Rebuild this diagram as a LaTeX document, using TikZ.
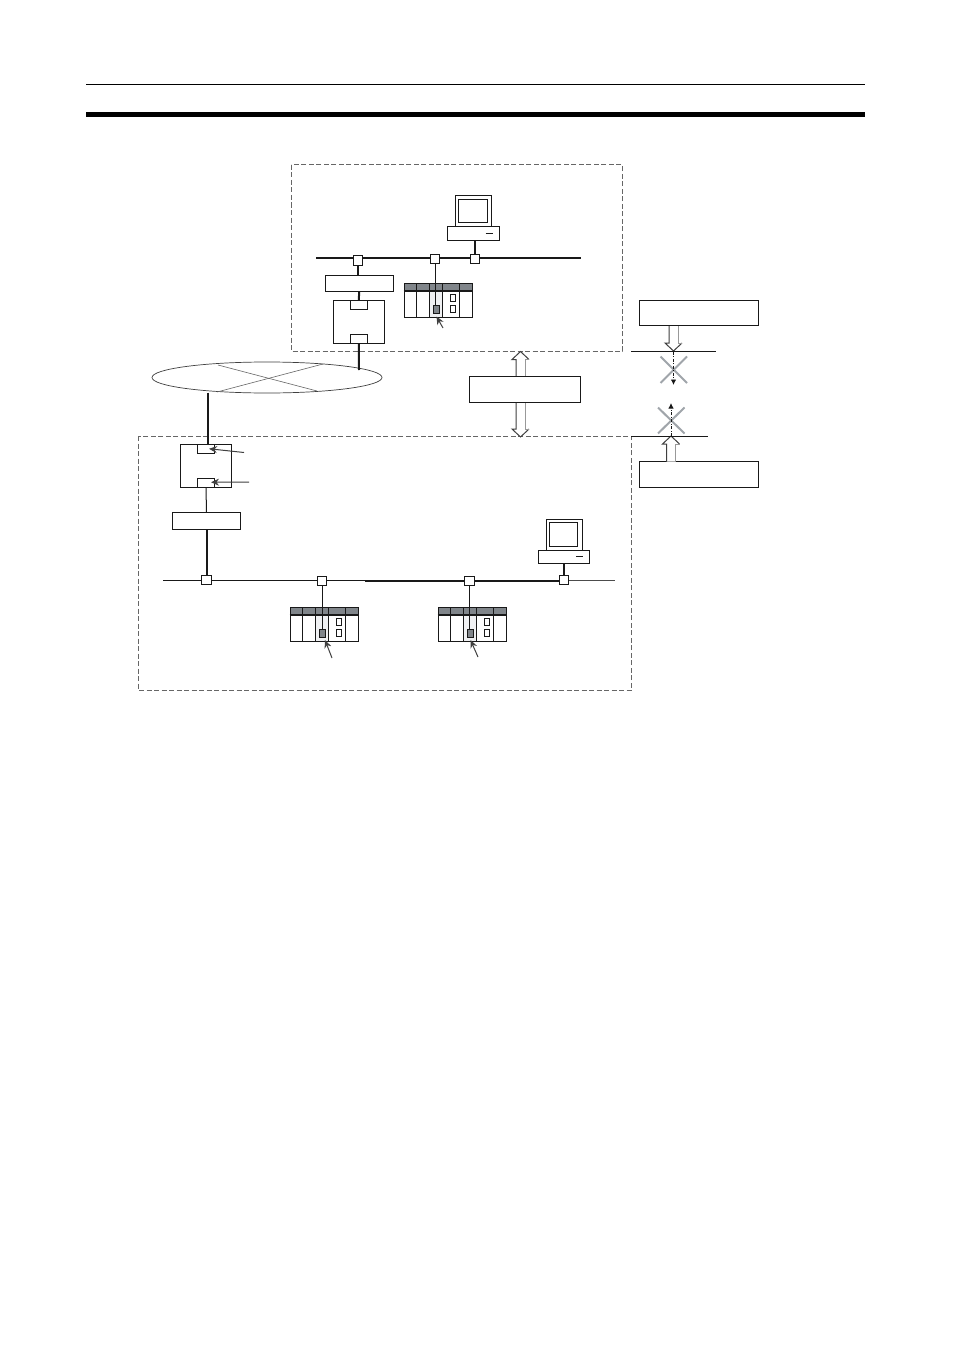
\documentclass[tikz,border=0pt]{standalone}
\usetikzlibrary{arrows.meta, positioning, calc, shapes.geometric}
\definecolor{headgray}{RGB}{128, 133, 138}
\definecolor{crossgray}{RGB}{160, 165, 170}
\definecolor{slotgray}{RGB}{240, 241, 243}
\tikzset{
  plainbox/.style={draw=black!90, fill=white, line width=1pt, inner sep=0pt, outer sep=0pt},
  tapbox/.style={plainbox, minimum width=9.5pt, minimum height=9.5pt},
  zonebox/.style={draw=black!60, line width=1pt, dash pattern=on 5pt off 2.5pt},
  busline/.style={draw=black!90, line width=2pt},
  thinlink/.style={draw=black!90, line width=1pt},
  thicklink/.style={draw=black!90, line width=2pt},
  pointer/.style={draw=black!75, line width=1pt, -{Stealth[length=8pt,width=7pt]}},
  crossline/.style={draw=crossgray, line width=2pt},
  blockline/.style={draw=black!90, line width=0.9pt, dash pattern=on 3pt off 1.5pt on 1pt off 1.5pt, -{Latex[length=5.5pt,width=5.5pt]}}
}
% monitor on a base, #1 = name, #2 = x, #3 = y of the top left corner of the monitor
\newcommand{\pcset}[3]{
  \node[plainbox, minimum width=36pt, minimum height=31pt, anchor=north west] (#1mon) at (#2, #3) {};
  \node[plainbox, minimum width=28.5pt, minimum height=23.5pt] (#1scr) at ($(#1mon.center)+(-0.3,-0.2)$) {};
  \node[plainbox, minimum width=51.5pt, minimum height=13.5pt, anchor=north] (#1) at (#1mon.south) {};
  \draw[thinlink] ($(#1.center)+(12,0)$) -- ($(#1.center)+(19,0)$);
}
% rack of units, #1 = name, #2 = x, #3 = y of the top left corner
\newcommand{\plcrack}[3]{
  \begin{scope}[shift={(#2, #3)}]
    \fill[slotgray] (26, 8) rectangle (38.5, 34);
    \fill[headgray] (0, 0) rectangle (68.5, 7.5);
    \node[draw=black!90, line width=1pt, minimum width=68.5pt, minimum height=34pt, inner sep=0pt, anchor=north west] (#1) at (0, 0) {};
    \draw[thicklink] (0, 7.5) -- (68.5, 7.5);
    \foreach \xdiv in {13, 26, 38.5, 56} {
      \draw[thinlink] (\xdiv, 0) -- (\xdiv, 34);
    }
    \node[plainbox, fill=headgray, minimum width=6pt, minimum height=8pt] (#1mod) at (32.5, 26) {};
    \node[plainbox, minimum width=5pt, minimum height=7.5pt] (#1up) at (49.5, 15) {};
    \node[plainbox, minimum width=5pt, minimum height=7.5pt] (#1low) at (49.5, 26) {};
  \end{scope}
}
% hollow arrow, #1 = x, #2 = y of the tail, #3 = y of the tip, #4 = direction (1 down, -1 up)
\newcommand{\openarrow}[4]{
  \fill[white] ({#1-4.5}, #2) -- ({#1-4.5}, {#3-(#4)*8}) -- ({#1-8.5}, {#3-(#4)*8}) -- (#1, #3) -- ({#1+8.5}, {#3-(#4)*8}) -- ({#1+4.5}, {#3-(#4)*8}) -- ({#1+4.5}, #2) -- cycle;
  \draw[black!75, line width=1pt] ({#1-4.5}, #2) -- ({#1-4.5}, {#3-(#4)*8}) -- ({#1-8.5}, {#3-(#4)*8}) -- (#1, #3) -- ({#1+8.5}, {#3-(#4)*8});
  \draw[black!40, line width=1pt] ({#1+8.5}, {#3-(#4)*8}) -- ({#1+4.5}, {#3-(#4)*8}) -- ({#1+4.5}, #2);
}
\begin{document}
\begin{tikzpicture}[x=1pt, y=-1pt]
  \useasboundingbox[fill=white] (0, 0) rectangle (954, 1351);

  % Page rules
  \draw[black, line width=0.9pt] (86, 84.5) -- (865, 84.5);
  \draw[black, line width=5pt] (86, 114.5) -- (865, 114.5);

  % Zones
  \draw[zonebox] (291, 165) rectangle (622.5, 351);
  \draw[zonebox] (138, 436) rectangle (631.5, 690);

  % Upper network
  \coordinate (busAleft) at (316, 258);
  \coordinate (busAright) at (581, 258);
  \draw[busline] (busAleft) -- (busAright);
  \node[tapbox] (tapAa) at (358, 260.5) {};
  \node[tapbox] (tapAb) at (435, 259) {};
  \node[tapbox] (tapAc) at (475, 259) {};
  \pcset{pcA}{455.5}{195.5}
  \draw[thicklink] (pcA.south -| tapAc) -- (tapAc.north);
  \node[plainbox, minimum width=68.5pt, minimum height=16pt] (unitA) at (359.25, 283.5) {};
  \draw[thicklink] (tapAa.south) -- (tapAa.south |- unitA.north);
  \node[plainbox, minimum width=51.5pt, minimum height=43.5pt] (gateA) at (358.75, 321.75) {};
  \node[plainbox, minimum width=17pt, minimum height=9.5pt, anchor=north] (gateAtop) at (gateA.north) {};
  \node[plainbox, minimum width=17pt, minimum height=9pt, anchor=south] (gateAbot) at (gateA.south) {};
  \draw[thicklink] (unitA.south) -- (gateAtop.north);
  \plcrack{rackA}{403.5}{283}
  \draw[thinlink] (tapAb.south) -- (rackAmod.north -| tapAb);
  \coordinate (ptrA) at (443, 328);
  \draw[pointer] (ptrA) -- (436.5, 316.5);

  % Wide area network
  \node[draw=black!75, line width=0.7pt, fill=white, ellipse, minimum width=230pt, minimum height=31pt, inner sep=0pt] (wan) at (267, 377.5) {};
  \draw[black!60, line width=0.6pt] (218, 365) -- (317, 391);
  \draw[black!60, line width=0.6pt] (217, 392) -- (323, 364);
  \coordinate (wanA) at (359, 370);
  \draw[thicklink] (gateAbot.south) -- (wanA);

  % Lower network
  \coordinate (busBleft) at (163, 580.5);
  \coordinate (busBmid) at (365, 580.5);
  \coordinate (busBrgt) at (565, 580.5);
  \coordinate (busBright) at (615, 580.5);
  \draw[thinlink, line width=1.5pt] (busBleft) -- (busBmid);
  \draw[busline] (busBmid) -- (busBrgt);
  \draw[thinlink, line width=1.5pt, black!70] (busBrgt) -- (busBright);
  \node[plainbox, minimum width=51.5pt, minimum height=43.5pt] (gateB) at (206, 466) {};
  \node[plainbox, minimum width=17pt, minimum height=9pt, anchor=north] (gateBtop) at (gateB.north) {};
  \node[plainbox, minimum width=17pt, minimum height=9pt, anchor=south] (gateBbot) at (gateB.south) {};
  \coordinate (wanB) at (208, 392.5);
  \draw[thicklink] (wanB) -- (wanB |- gateB.north);
  \coordinate (ptrBa) at (244, 452.5);
  \coordinate (ptrBb) at (249, 482);
  \draw[pointer] (ptrBa) -- ($(gateBtop.center)+(3,0)$);
  \draw[pointer] (ptrBb) -- ($(gateBbot.center)+(5,-1)$);
  \node[plainbox, minimum width=68pt, minimum height=17pt] (unitB) at (206.5, 521) {};
  \draw[thinlink] (gateBbot.south) -- (unitB.north);
  \node[tapbox] (tapBa) at (206.5, 580) {};
  \node[tapbox] (tapBb) at (322, 581) {};
  \node[tapbox] (tapBc) at (469.5, 581) {};
  \node[tapbox] (tapBd) at (564, 580) {};
  \draw[thicklink] (unitB.south) -- (tapBa.north);
  \plcrack{rackB}{289.5}{607}
  \plcrack{rackC}{437.5}{607}
  \draw[thinlink] (tapBb.south) -- (rackBmod.north -| tapBb);
  \draw[thinlink] (tapBc.south) -- (rackCmod.north -| tapBc);
  \coordinate (ptrB) at (332, 658);
  \coordinate (ptrC) at (478, 657);
  \draw[pointer] (ptrB) -- (325, 640);
  \draw[pointer] (ptrC) -- (470.5, 640);
  \pcset{pcB}{546}{519}
  \draw[thicklink] (pcB.south -| tapBd) -- (tapBd.north);

  % Allowed path
  \openarrow{520.5}{377}{351.5}{-1}
  \openarrow{520.5}{401}{437}{1}
  \node[plainbox, minimum width=111.5pt, minimum height=26pt] (allowbox) at (524.75, 389.25) {};

  % Blocked path from outside
  \node[plainbox, minimum width=119pt, minimum height=25.5pt] (blockA) at (699, 313) {};
  \openarrow{673.5}{326}{351}{1}
  \coordinate (lineAleft) at (631, 351.5);
  \coordinate (lineAright) at (716, 351.5);
  \draw[thinlink] (lineAleft) -- (lineAright);
  \draw[crossline] (660.5, 356.5) -- (687, 383);
  \draw[crossline] (687, 356.5) -- (660.5, 383);
  \coordinate (stopA) at (673.5, 385);
  \draw[blockline] (673.5, 351.5) -- (stopA);

  % Blocked path from inside
  \node[plainbox, minimum width=119pt, minimum height=25.5pt] (blockB) at (699, 474.25) {};
  \openarrow{671}{461.5}{436}{-1}
  \coordinate (lineBleft) at (631, 436.3);
  \coordinate (lineBright) at (708, 436.3);
  \draw[thinlink] (lineBleft) -- (lineBright);
  \draw[crossline] (658, 407.5) -- (684.5, 433.5);
  \draw[crossline] (684.5, 407.5) -- (658, 433.5);
  \coordinate (stopB) at (671, 403);
  \draw[blockline] (671, 436) -- (stopB);
\end{tikzpicture}
\end{document}
